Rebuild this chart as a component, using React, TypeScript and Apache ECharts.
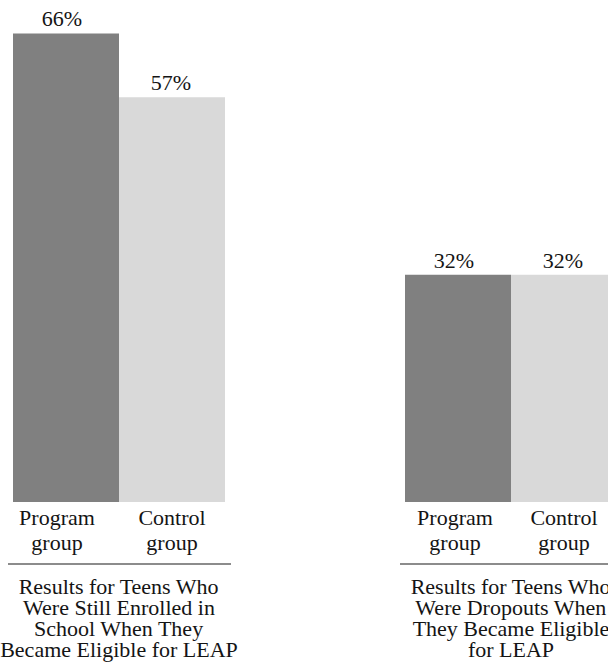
import React, { useEffect, useRef } from "react";
import * as echarts from "echarts";

// Bar categories shared by both panels
const categories = ["Program group", "Control group"];
// Percentages for teens still enrolled in school when they became eligible
const enrolledValues = [66, 57];
// Percentages for teens who were dropouts when they became eligible
const dropoutValues = [32, 32];
// Panel captions, one entry per line
const enrolledCaption = ["Results for Teens Who", "Were Still Enrolled in", "School When They", "Became Eligible for LEAP"];
const dropoutCaption = ["Results for Teens Who", "Were Dropouts When", "They Became Eligible", "for LEAP"];

const FONT = "Liberation Serif";
const FONT_SIZE = 22;
const TEXT = "#141414";
const BAR_COLORS = ["#808080", "#d9d9d9"];

const GRID_TOP = 5;
const GRID_BOTTOM = 163;
const GRID_W = 212;
const PANEL_LEFTS = [13, 405];
const LABEL_SHIFT = [9, 3]; // program-label nudge to the left, per panel
const VALUE_NUDGE = [-4, -1];
const VALUE_RAISE = 25.7;
const CAT_GAP = 4.7;
const CAT_LINE = 24.3;
const CAPTION_TOP = 575;
const CAPTION_LINE = 21.2;
const SEP_Y = 564;

// Width of a line of text in the chart font, for centring
function measure(text: string): number {
  const ctx = document.createElement("canvas").getContext("2d");
  if (!ctx) return text.length * FONT_SIZE * 0.45;
  ctx.font = `${FONT_SIZE}px ${FONT}`;
  return ctx.measureText(text).width;
}

function centredLine(cx: number, top: number, text: string) {
  return {
    type: "text",
    x: cx - measure(text) / 2,
    y: top,
    style: { text, fontFamily: FONT, fontSize: FONT_SIZE, fill: TEXT },
  };
}

export default function App() {
  const ref = useRef<HTMLDivElement>(null);

  useEffect(() => {
    if (!ref.current) return;
    document.body.style.margin = "0";
    const chart = echarts.init(ref.current, null, { renderer: "svg" });
    const panels = [
      { values: enrolledValues, caption: enrolledCaption },
      { values: dropoutValues, caption: dropoutCaption },
    ];

    chart.setOption({
      animation: false,
      backgroundColor: "#ffffff",
      grid: panels.map((_, i) => ({
        left: PANEL_LEFTS[i],
        width: GRID_W,
        top: GRID_TOP,
        bottom: GRID_BOTTOM,
        containLabel: false,
        outerBoundsMode: "none",
      })),
      xAxis: panels.map((_, i) => ({
        type: "category",
        gridIndex: i,
        data: categories,
        axisLine: { show: false },
        axisTick: { show: false },
        axisLabel: { show: false },
        splitLine: { show: false },
      })),
      yAxis: panels.map((_, i) => ({
        type: "value",
        gridIndex: i,
        min: 0,
        max: 70,
        show: false,
      })),
      series: panels.map((p, i) => ({
        type: "bar",
        xAxisIndex: i,
        yAxisIndex: i,
        barWidth: "100%",
        barCategoryGap: "0%",
        data: p.values.map((v, k) => ({ value: v, itemStyle: { color: BAR_COLORS[k] } })),
      })),
    } as any);

    // Value labels, category labels, separators and captions, placed from the axes' pixel conversion
    const graphics: any[] = [];
    panels.forEach((p, i) => {
      const finder = { gridIndex: i };
      const c0 = chart.convertToPixel(finder, [categories[0], 0]) as number[];
      const c1 = chart.convertToPixel(finder, [categories[1], 0]) as number[];
      const band = c1[0] - c0[0];
      const zeroY = c0[1];
      const mid = (c0[0] + c1[0]) / 2;

      p.values.forEach((v, k) => {
        const [x, y] = chart.convertToPixel(finder, [categories[k], v]) as number[];
        graphics.push(centredLine(x + VALUE_NUDGE[k], y - VALUE_RAISE, `${v}%`));
        const shift = k === 0 ? LABEL_SHIFT[i] : 0;
        categories[k].split(" ").forEach((word, li) => {
          graphics.push(centredLine(x - shift, zeroY + CAT_GAP + li * CAT_LINE, word));
        });
      });

      graphics.push({
        type: "line",
        shape: { x1: c0[0] - band / 2 - 5, y1: SEP_Y, x2: c1[0] + band / 2 + 6, y2: SEP_Y },
        style: { stroke: "#1a1a1a", lineWidth: 1.2 },
      });
      p.caption.forEach((line, li) => {
        graphics.push(centredLine(mid, CAPTION_TOP + li * CAPTION_LINE, line));
      });
    });

    chart.setOption({ graphic: graphics });
    return () => chart.dispose();
  }, []);

  return (
    <div style={{ width: 608, height: 665, overflow: "hidden" }}>
      <div ref={ref} style={{ width: 640, height: 665 }} />
    </div>
  );
}
